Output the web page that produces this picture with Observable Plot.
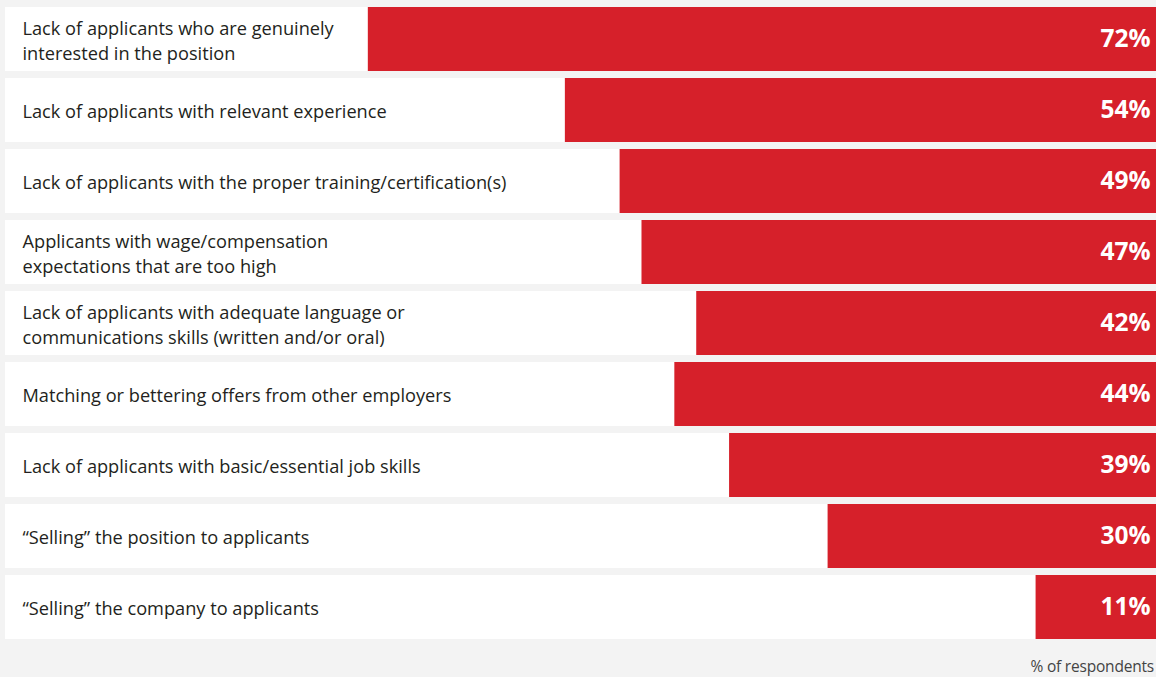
<!DOCTYPE html>
<html>
<head>
<meta charset="utf-8">
<script src="https://cdn.jsdelivr.net/npm/d3@7"></script>
<script src="https://cdn.jsdelivr.net/npm/@observablehq/plot@0.6"></script>
<style>
  html, body { margin: 0; padding: 0; background: #f3f3f3; }
  #chart { width: 1156px; height: 652px; }
  #chart svg { display: block; }
  .caption { font-family: "Open Sans", sans-serif; font-size: 15.5px; color: #444; text-align: right; width: 1154px; margin-top: 3px; letter-spacing: -0.2px; }
</style>
</head>
<body>
<div id="chart"></div>
<script>
const categories = [
  "Lack of applicants who are genuinely\ninterested in the position",
  "Lack of applicants with relevant experience",
  "Lack of applicants with the proper training/certification(s)",
  "Applicants with wage/compensation\nexpectations that are too high",
  "Lack of applicants with adequate language or\ncommunications skills (written and/or oral)",
  "Matching or bettering offers from other employers",
  "Lack of applicants with basic/essential job skills",
  "\u201cSelling\u201d the position to applicants",
  "\u201cSelling\u201d the company to applicants"
];
const values = [72, 54, 49, 47, 42, 44, 39, 30, 11];
const data = categories.map((c, i) => ({category: c, value: values[i]}));
const xMax = 105.6;

const plot = Plot.plot({
  width: 1156,
  height: 652,
  marginTop: 6,
  marginBottom: 12,
  marginLeft: 0,
  marginRight: 0,
  style: {background: "transparent", fontFamily: "'Open Sans', sans-serif"},
  x: {domain: [0, xMax], reverse: true, axis: null},
  y: {domain: categories, axis: null, paddingInner: 0.1, paddingOuter: 0},
  marks: [
    Plot.barX(data, {y: "category", x1: 0, x2: xMax, fill: "white", insetLeft: 5}),
    Plot.barX(data, {y: "category", x1: 0, x2: "value", fill: "#d6202a"}),
    Plot.text(data, {y: "category", text: "category", frameAnchor: "left", dx: 22, textAnchor: "start", fill: "#231f20", fontSize: 18.2, lineHeight: 1.37}),
    Plot.text(data, {y: "category", x: 0, text: d => d.value + "%", textAnchor: "end", dx: -6, fill: "white", fontSize: 24.5, fontWeight: "bold"})
  ]
});
document.getElementById("chart").append(plot);
const cap = document.createElement("div");
cap.className = "caption";
cap.textContent = "% of respondents";
document.body.append(cap);
</script>
</body>
</html>
